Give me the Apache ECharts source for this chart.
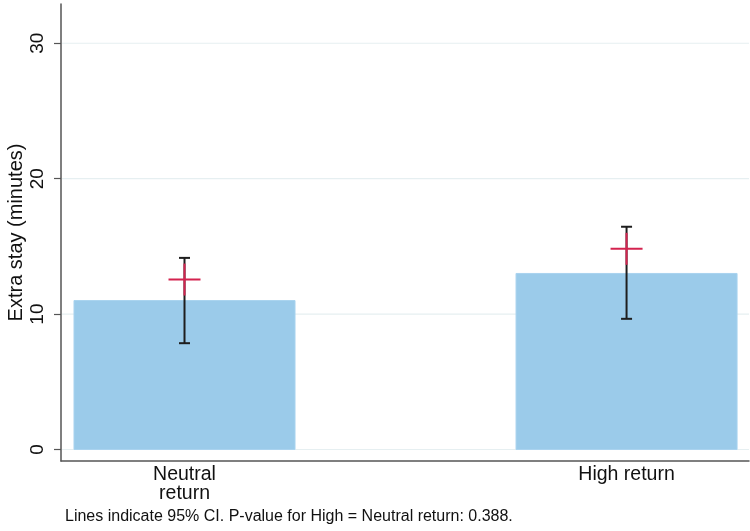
<!DOCTYPE html>
<html>
<head>
<meta charset="utf-8">
<script src="https://cdn.jsdelivr.net/npm/echarts@6/dist/echarts.min.js"></script>
<style>html,body{margin:0;padding:0;background:#fff;}#c{width:750px;height:531px;}</style>
</head>
<body>
<div id="c"></div>
<script>
// Data
const categories = ['Neutral\nreturn', 'High return'];
const positions = [1, 2];
const barValues = [11.0, 13.0];
const ciLow = [7.85, 9.65];
const ciHigh = [14.15, 16.45];
const means = [12.55, 14.82];
const yTicks = [0, 10, 20, 30];
const yTitle = 'Extra stay (minutes)';
const footNote = 'Lines indicate 95% CI. P-value for High = Neutral return: 0.388.';

const FONT = 'Liberation Sans, Arial, sans-serif';
const chart = echarts.init(document.getElementById('c'), null, {renderer: 'canvas'});

const barData = positions.map((p, i) => [p, barValues[i]]);
const ciData = positions.map((p, i) => [p, ciLow[i], ciHigh[i]]);
const meanData = positions.map((p, i) => [p, means[i]]);
const gridData = yTicks.map(v => [v]);

chart.setOption({
  animation: false,
  backgroundColor: '#ffffff',
  grid: {left: 61, right: 1, top: 4, bottom: 70, containLabel: false, outerBoundsMode: 'none'},
  xAxis: {
    type: 'value', min: 0.7206, max: 2.277,
    axisLine: {show: true, onZero: false, lineStyle: {color: '#555', width: 1.5}},
    axisTick: {show: false},
    splitLine: {show: false},
    axisLabel: {
      customValues: positions,
      formatter: v => categories[positions.indexOf(v)] || '',
      color: '#111', fontFamily: FONT, fontSize: 19.5, lineHeight: 19, margin: 4
    }
  },
  yAxis: {
    type: 'value', min: -0.85, max: 32.9,
    name: yTitle, nameLocation: 'middle', nameRotate: 90, nameGap: 35, nameMoveOverlap: false,
    nameTextStyle: {color: '#111', fontFamily: FONT, fontSize: 20},
    axisLine: {show: true, onZero: false, lineStyle: {color: '#555', width: 1.5}},
    axisTick: {show: true, customValues: yTicks, length: 7, lineStyle: {color: '#555', width: 1.2}},
    splitLine: {show: false},
    axisLabel: {customValues: yTicks, rotate: 90, color: '#111', fontFamily: FONT, fontSize: 19, margin: 14}
  },
  graphic: [{
    type: 'text', left: 65, top: 509,
    style: {text: footNote, fill: '#111', font: '16px ' + FONT}
  }],
  series: [
    {
      type: 'custom', z: 1, silent: true, data: gridData,
      renderItem: (params, api) => {
        const cs = params.coordSys;
        const y = api.coord([1, api.value(0)])[1];
        return {type: 'line', shape: {x1: cs.x + 1, y1: y, x2: cs.x + cs.width, y2: y},
          style: {stroke: '#e6eff1', lineWidth: 1.2}};
      }
    },
    {
      type: 'custom', z: 2, silent: true, data: barData,
      renderItem: (params, api) => {
        const top = api.coord([api.value(0), api.value(1)]);
        const bot = api.coord([api.value(0), 0]);
        const w = api.size([0.5, 0])[0];
        return {type: 'rect', shape: {x: top[0] - w / 2, y: top[1], width: w, height: bot[1] - top[1]},
          style: {fill: '#9bcbea', stroke: '#a9d3ef', lineWidth: 1}};
      }
    },
    {
      type: 'custom', z: 3, silent: true, data: ciData,
      renderItem: (params, api) => {
        const lo = api.coord([api.value(0), api.value(1)]);
        const hi = api.coord([api.value(0), api.value(2)]);
        const cap = 5.5;
        const st = {stroke: '#1e1e1e', lineWidth: 2};
        return {type: 'group', children: [
          {type: 'line', shape: {x1: lo[0], y1: lo[1], x2: hi[0], y2: hi[1]}, style: st},
          {type: 'line', shape: {x1: lo[0] - cap, y1: lo[1], x2: lo[0] + cap, y2: lo[1]}, style: st},
          {type: 'line', shape: {x1: hi[0] - cap, y1: hi[1], x2: hi[0] + cap, y2: hi[1]}, style: st}
        ]};
      }
    },
    {
      type: 'custom', z: 4, silent: true, data: meanData,
      renderItem: (params, api) => {
        const c = api.coord([api.value(0), api.value(1)]);
        const h = 16;
        const st = {stroke: '#d4234f', lineWidth: 2};
        return {type: 'group', children: [
          {type: 'line', shape: {x1: c[0] - h, y1: c[1], x2: c[0] + h, y2: c[1]}, style: st},
          {type: 'line', shape: {x1: c[0], y1: c[1] - h, x2: c[0], y2: c[1] + h}, style: st}
        ]};
      }
    }
  ]
});
</script>
</body>
</html>
